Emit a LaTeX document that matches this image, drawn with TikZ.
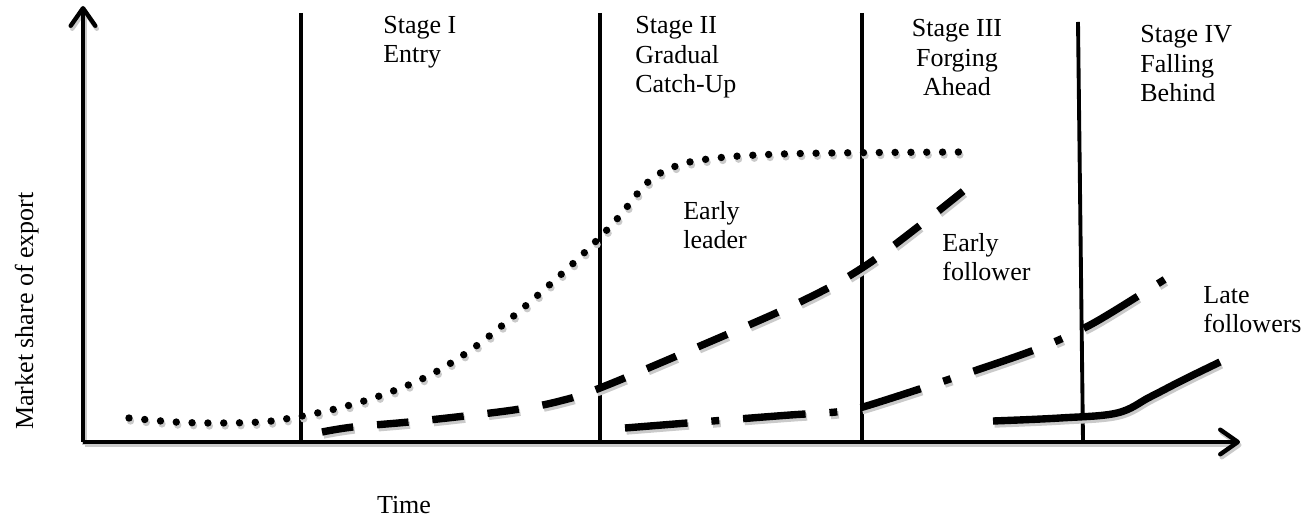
\documentclass[tikz,border=0pt]{standalone}
\usepackage{fontspec}
\setmainfont{Liberation Serif}
\usetikzlibrary{arrows.meta, positioning}
\definecolor{ombregris}{HTML}{CACACA}

\tikzset{
  ombre/.style={preaction={#1, draw=ombregris, transform canvas={shift={(1.5,3)}}}, #1},
  traitaxe/.style={line width=2.5pt, -{Straight Barb[round, length=10pt, width=14pt]}},
  etape/.style={line width=2.2pt},
  motifplein/.style={line width=4.2pt},
  motifpoints/.style={line width=4.2pt, dash pattern=on 0pt off 9pt, line cap=round},
  motiftirets/.style={line width=4.2pt, dash pattern=on 18pt off 13.6pt},
  motifmixte/.style={line width=4.2pt, dash pattern=on 35.7pt off 13.6pt on 4.5pt off 13.6pt},
  texte/.style={inner sep=0pt, font=\fontsize{14.8pt}{17pt}\selectfont, align=left},
}

\begin{document}
\begin{tikzpicture}[x=0.02cm, y=-0.02cm]

  % === CADRE (1 unite = 1 px) ===
  \useasboundingbox (0,0) rectangle (1315,526);

  % Positions des etapes
  \pgfmathsetmacro{\xO}{83}
  \pgfmathsetmacro{\yO}{442}
  \pgfmathsetmacro{\xA}{301}
  \pgfmathsetmacro{\xB}{600}
  \pgfmathsetmacro{\xC}{862}

  % === AXES ===
  \coordinate (origine) at (\xO,\yO);
  \coordinate (yfin) at (\xO,6);
  \coordinate (xfin) at (1240,\yO);
  \draw[ombre=traitaxe] (origine) -- (yfin);
  \draw[ombre=traitaxe] (origine) -- (xfin);

  % === SEPARATIONS ===
  \draw[etape] (\xA,13) -- (\xA,\yO);
  \draw[etape] (\xB,13) -- (\xB,\yO);
  \draw[etape] (\xC,13) -- (\xC,\yO);
  \draw[etape] (1078,22) -- (1083,\yO);

  % === COURBES ===
  % Early leader
  \draw[ombre=motifpoints] plot[smooth, tension=0.6] coordinates {
    (129,418) (175,422) (215,423) (260,422) (291,418) (339,408) (385,394)
    (430,375) (472,349) (510,319) (547,287) (583,254) (617,219) (648,182)
    (676,166) (708,159) (757,155) (830,153) (967,152)};

  % Early follower
  \draw[ombre=motiftirets] plot[smooth, tension=0.6] coordinates {
    (322,432) (353,427) (409,422) (465,416) (520,409) (560,401) (600,388)
    (700,346) (800,302) (862,268) (923,223) (967,188)};

  % Late followers
  \draw[ombre=motifmixte] plot[smooth, tension=0.5] coordinates {
    (625,428) (700,422) (790,415) (836,412) (863,407) (950,379) (1037,349)
    (1090,325) (1143,293) (1170,276)};

  % Stage IV
  \draw[ombre=motifplein] plot[smooth, tension=0.6] coordinates {
    (993,421) (1060,418) (1117,413) (1150,397) (1183,380) (1220,362)};

  % === TEXTES ===
  \node[texte, anchor=base west] (etapeI) at (383,63) {Stage I\\Entry};
  \node[texte, anchor=base west] (etapeII) at (635,93) {Stage II\\Gradual\\Catch-Up};
  \node[texte, anchor=base, align=center] (etapeIII) at (957,96) {Stage III\\Forging\\Ahead};
  \node[texte, anchor=base west] (etapeIV) at (1140,102) {Stage IV\\Falling\\Behind};

  \node[texte, anchor=base west] (leader) at (683,249) {Early\\leader};
  \node[texte, anchor=base west] (suiveur) at (942,281) {Early\\follower};
  \node[texte, anchor=base west] (tardifs) at (1203,333) {Late\\followers};

  \node[texte, rotate=90, anchor=base] (ordonnee) at (33,311) {Market share of export};
  \node[texte] (abscisse) at (404,505) {Time};

\end{tikzpicture}
\end{document}
